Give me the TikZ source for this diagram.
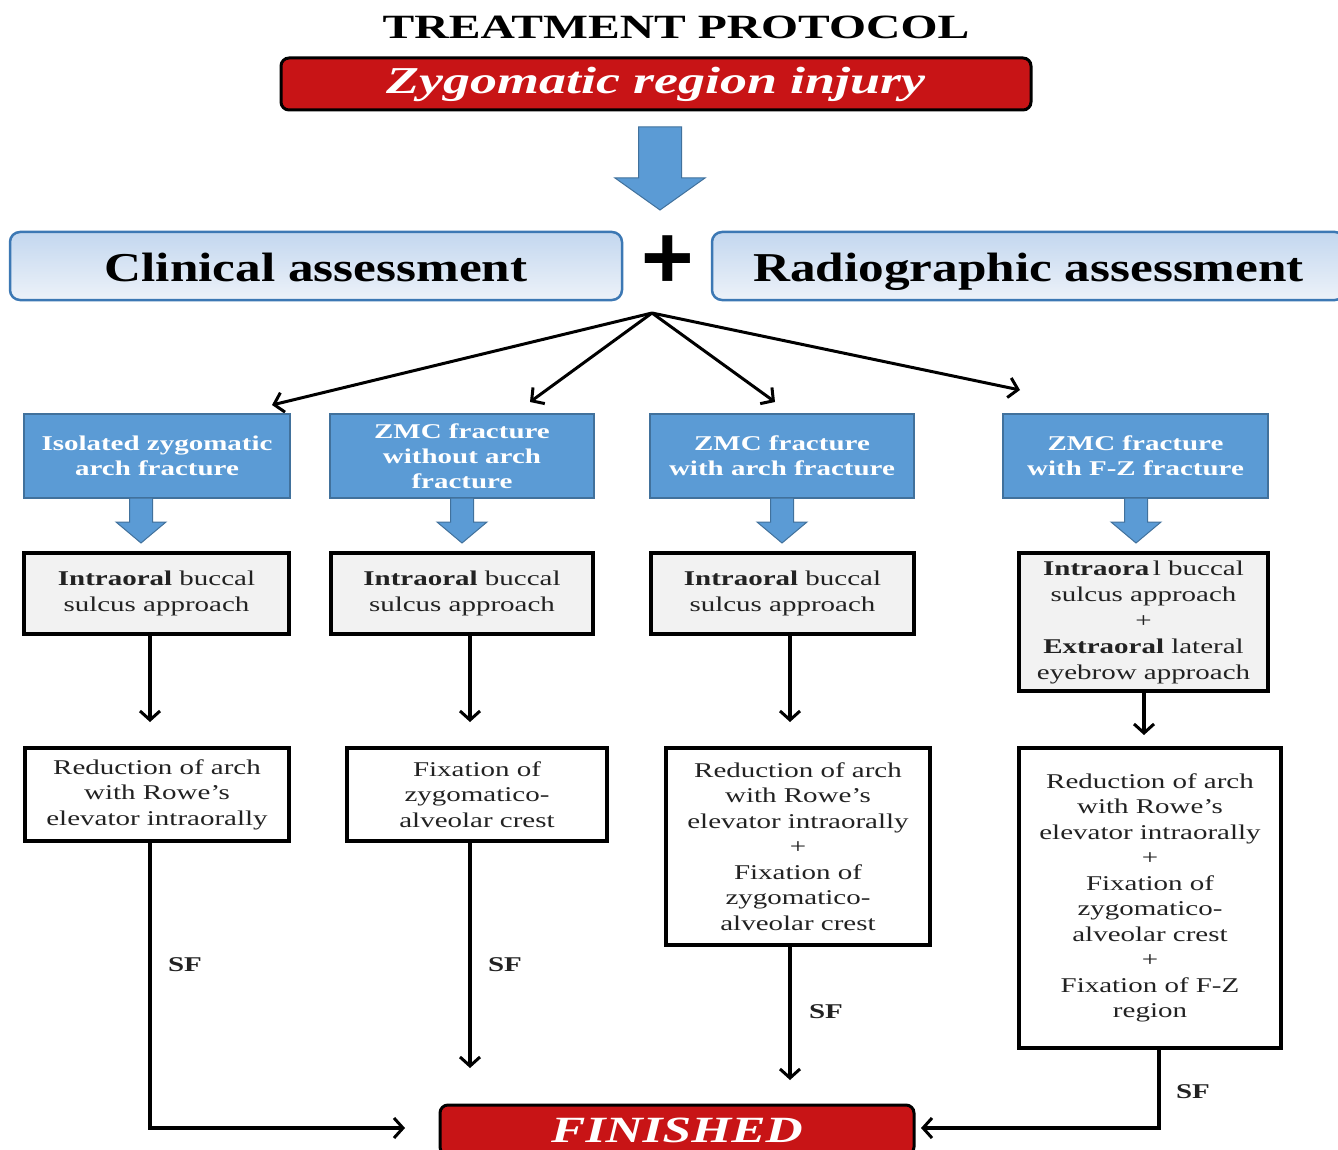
\documentclass[tikz,border=0pt]{standalone}
\usepackage{fontspec}
\setmainfont[FakeStretch=1.38]{Liberation Serif}
\newfontfamily\assessfont[FakeStretch=1.25]{Liberation Serif}
\newfontfamily\titlefont[FakeStretch=1.40]{Liberation Serif}
\newfontfamily\injfont[FakeStretch=1.42]{Liberation Serif}
\newfontfamily\finfont[FakeStretch=1.39]{Liberation Serif}
\newfontfamily\plusfont{Liberation Sans}
\usetikzlibrary{arrows.meta,calc}
\definecolor{injred}{HTML}{C81416}
\definecolor{bluefill}{HTML}{5B9BD5}
\definecolor{blueedge}{HTML}{41719C}
\definecolor{assessblue}{HTML}{3C78B4}
\definecolor{assesstop}{HTML}{C3D7EF}
\definecolor{assessbot}{HTML}{EDF2F9}
\definecolor{grayfill}{HTML}{F2F2F2}
\definecolor{textgray}{HTML}{222222}
\newcommand\blockarrow[6]{%
  \filldraw[blockarr] (#1-#5,#2) -- (#1+#5,#2) -- (#1+#5,#3) -- (#1+#6,#3) -- (#1,#4) -- (#1-#6,#3) -- (#1-#5,#3) -- cycle;}
\begin{document}
\begin{tikzpicture}[x=1pt,y=-1pt,
  every node/.style={inner sep=0pt, outer sep=0pt},
  redbox/.style={draw=black, line width=3pt, fill=injred, rounded corners=8pt, text=white},
  assess/.style={draw=assessblue, line width=2.5pt, rounded corners=10pt, top color=assesstop, bottom color=assessbot, font=\assessfont\bfseries\fontsize{41}{41}\selectfont, text height=32pt, text depth=0pt},
  bluebox/.style={draw=blueedge, line width=2pt, fill=bluefill, text=white, align=center, font=\fontsize{21}{25}\selectfont\bfseries},
  graybox/.style={draw=black, line width=3.5pt, fill=grayfill, align=center, text=textgray, font=\fontsize{21}{26}\selectfont},
  whitebox/.style={draw=black, line width=3.5pt, fill=white, align=center, text=textgray, font=\fontsize{21}{25.5}\selectfont},
  conn/.style={line width=3.5pt, -{Straight Barb[length=9pt,width=20pt,line width=3pt]}},
  fan/.style={line width=3pt, -{Straight Barb[length=9pt,width=20pt,line width=3pt]}},
  sflabel/.style={font=\fontsize{21}{21}\selectfont\bfseries, text=textgray},
  blockarr/.style={fill=bluefill, draw=blueedge, line width=1pt},
]
\useasboundingbox (0,0) rectangle (1338,1150);
\clip (0,0) rectangle (1338,1150);
\fill[white] (0,0) rectangle (1338,1150);

% title
\node[font=\titlefont\bfseries\fontsize{34}{34}\selectfont] (title) at (676,27) {TREATMENT PROTOCOL};
\node[redbox, minimum width=750pt, minimum height=52pt, font=\injfont\bfseries\itshape\fontsize{38}{38}\selectfont] (inj) at (656,84) {Zygomatic region injury};

\blockarrow{660}{127}{178}{210}{21.5}{45}

% assessments
\node[assess, minimum width=612pt, minimum height=68pt] (clin) at (316,266) {Clinical assessment};
\node[font=\plusfont\bfseries\fontsize{90}{90}\selectfont] (plus) at (668,262) {+};
\node[assess, minimum width=633pt, minimum height=68pt] (radio) at (1028.5,266) {Radiographic assessment};

% fan
\coordinate (fo) at (652,313);
\coordinate (t1) at (272,405);
\coordinate (t2) at (530,402);
\coordinate (t3) at (775,402);
\coordinate (t4) at (1020,390);
\draw[fan] (fo) -- (t1);
\draw[fan] (fo) -- (t2);
\draw[fan] (fo) -- (t3);
\draw[fan] (fo) -- (t4);

% blue boxes
\node[bluebox, minimum width=266pt, minimum height=84pt] (b1) at (157,456) {Isolated zygomatic\\arch fracture};
\node[bluebox, minimum width=264pt, minimum height=84pt] (b2) at (462,456) {ZMC fracture\\without arch\\fracture};
\node[bluebox, minimum width=264pt, minimum height=84pt] (b3) at (782,456) {ZMC fracture\\with arch fracture};
\node[bluebox, minimum width=265pt, minimum height=84pt] (b4) at (1135.5,456) {ZMC fracture\\with F-Z fracture};

\blockarrow{141}{498}{522}{543}{11.5}{25}
\blockarrow{462}{498}{522}{543}{11.5}{25}
\blockarrow{782}{498}{522}{543}{11.5}{25}
\blockarrow{1136}{498}{522}{543}{11.5}{25}

% gray boxes
\node[graybox, minimum width=265pt, minimum height=81pt] (g1) at (156.5,593.5) {\textbf{Intraoral} buccal\\sulcus approach};
\node[graybox, minimum width=262pt, minimum height=81pt] (g2) at (462,593.5) {\textbf{Intraoral} buccal\\sulcus approach};
\node[graybox, minimum width=263pt, minimum height=81pt] (g3) at (782.5,593.5) {\textbf{Intraoral} buccal\\sulcus approach};
\node[graybox, minimum width=249pt, minimum height=138pt] (g4) at (1143.5,622) {\textbf{Intraora}\,l buccal\\sulcus approach\\+\\\textbf{Extraoral} lateral\\eyebrow approach};

\draw[conn] ([xshift=-6.5pt]g1.south) -- ++(0,88);
\draw[conn] ([xshift=8pt]g2.south) -- ++(0,88);
\draw[conn] ([xshift=7.5pt]g3.south) -- ++(0,88);
\draw[conn] ([xshift=0.5pt]g4.south) -- ++(0,44);

% white boxes
\node[whitebox, minimum width=264pt, minimum height=93pt] (w1) at (157,794.5) {Reduction of arch\\with Rowe's\\elevator intraorally};
\node[whitebox, minimum width=260pt, minimum height=93pt] (w2) at (477,794.5) {Fixation of\\zygomatico-\\alveolar crest};
\node[whitebox, minimum width=264pt, minimum height=197pt] (w3) at (798,846.5) {Reduction of arch\\with Rowe's\\elevator intraorally\\+\\Fixation of\\zygomatico-\\alveolar crest};
\node[whitebox, minimum width=262pt, minimum height=300pt] (w4) at (1150,898) {Reduction of arch\\with Rowe's\\elevator intraorally\\+\\Fixation of\\zygomatico-\\alveolar crest\\+\\Fixation of F-Z\\region};

% finished
\node[redbox, minimum width=474pt, minimum height=50pt, font=\finfont\bfseries\itshape\fontsize{37}{37}\selectfont] (fin) at (677,1130) {FINISHED};

\coordinate (e1) at (405,1128);
\coordinate (e4) at (921,1128);
\draw[conn] ([xshift=-7pt]w1.south) |- (e1);
\draw[conn] ([xshift=-7pt]w2.south) -- ++(0,227);
\draw[conn] ([xshift=-8pt]w3.south) -- ++(0,135);
\draw[conn] ([xshift=9pt]w4.south) |- (e4);

\node[sflabel] (sf1) at (185,965) {SF};
\node[sflabel] (sf2) at (505,965) {SF};
\node[sflabel] (sf3) at (826,1012) {SF};
\node[sflabel] (sf4) at (1193,1092) {SF};
\end{tikzpicture}
\end{document}
